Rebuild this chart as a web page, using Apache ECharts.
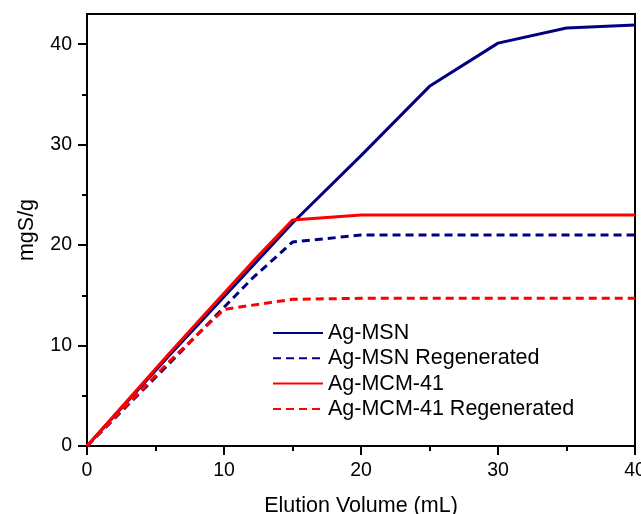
<!DOCTYPE html>
<html>
<head>
<meta charset="utf-8">
<script src="https://cdn.jsdelivr.net/npm/echarts@6/dist/echarts.min.js"></script>
<style>html,body{margin:0;padding:0;background:#fff;}#c{width:641px;height:514px;}</style>
</head>
<body>
<div id="c"></div>
<script>
const seriesNames = ['Ag-MSN', 'Ag-MSN Regenerated', 'Ag-MCM-41', 'Ag-MCM-41 Regenerated'];
const msnX = [0, 3, 6, 9, 12, 15, 20, 25, 30, 35, 40];
const msnY = [0, 4.5, 9.0, 13.4, 17.8, 22.2, 28.9, 35.8, 40.1, 41.6, 41.9];
const msnRegenX = [0, 3, 6, 9, 12, 15, 20, 25, 30, 35, 40];
const msnRegenY = [0, 4.1, 8.2, 12.4, 16.6, 20.3, 21.0, 21.0, 21.0, 21.0, 21.0];
const mcmX = [0, 3, 6, 9, 12, 15, 20, 25, 30, 35, 40];
const mcmY = [0, 4.6, 9.2, 13.7, 18.2, 22.5, 23.0, 23.0, 23.0, 23.0, 23.0];
const mcmRegenX = [0, 3, 6, 10, 15, 20, 25, 30, 35, 40];
const mcmRegenY = [0, 4.2, 8.4, 13.6, 14.6, 14.7, 14.7, 14.7, 14.7, 14.7];
const xTicks = [0, 10, 20, 30, 40];
const yMajorTicks = [0, 10, 20, 30, 40];
const yMinorTicks = [5, 15, 25, 35];
const xTitle = 'Elution Volume (mL)';
const yTitle = 'mgS/g';

const FONT = 'Arial, "Liberation Sans", sans-serif';
const NAVY = '#000080', RED = '#ff0000';
function pairs(xs, ys) { return xs.map((x, i) => [x, ys[i]]); }

const chart = echarts.init(document.getElementById('c'), null, {renderer: 'canvas'});
const lineStyles = [
  {color: NAVY, width: 3, type: 'solid'},
  {color: NAVY, width: 3, type: [8, 5]},
  {color: RED, width: 3, type: 'solid'},
  {color: RED, width: 3, type: [8, 5]}
];
const datas = [pairs(msnX, msnY), pairs(msnRegenX, msnRegenY), pairs(mcmX, mcmY), pairs(mcmRegenX, mcmRegenY)];

chart.setOption({
  animation: false,
  backgroundColor: '#fff',
  grid: {left: 87, right: 6, top: 14, bottom: 68, show: true, borderColor: '#000', borderWidth: 2,
         backgroundColor: 'transparent', containLabel: false, outerBoundsMode: 'none'},
  legend: {
    orient: 'vertical', left: 267, top: 317,
    itemWidth: 50, itemHeight: 14, itemGap: 3.3,
    itemStyle: {opacity: 0},
    textStyle: {fontFamily: FONT, fontSize: 21.5, color: '#000', lineHeight: 21},
    data: seriesNames
  },
  xAxis: {
    type: 'value', min: 0, max: 40, interval: 10,
    name: xTitle, nameLocation: 'middle', nameGap: 49,
    nameTextStyle: {fontFamily: FONT, fontSize: 21.5, color: '#000'},
    axisLine: {show: true, onZero: false, lineStyle: {color: '#000', width: 2}},
    axisTick: {show: true, inside: false, length: 9, lineStyle: {color: '#000', width: 2}},
    minorTick: {show: true, splitNumber: 2, length: 5, lineStyle: {color: '#000', width: 2}},
    axisLabel: {fontFamily: FONT, fontSize: 19.5, color: '#000', margin: 15},
    splitLine: {show: false}, minorSplitLine: {show: false}
  },
  yAxis: [{
    type: 'value', min: 0, max: 43, position: 'left',
    name: yTitle, nameLocation: 'middle', nameGap: 49,
    nameTextStyle: {fontFamily: FONT, fontSize: 21.5, color: '#000'},
    axisLine: {show: true, onZero: false, lineStyle: {color: '#000', width: 2}},
    axisTick: {show: true, inside: false, length: 9, customValues: yMajorTicks, lineStyle: {color: '#000', width: 2}},
    axisLabel: {fontFamily: FONT, fontSize: 19.5, color: '#000', margin: 15, customValues: yMajorTicks},
    splitLine: {show: false}
  }, {
    type: 'value', min: 0, max: 43, position: 'left', offset: 0,
    axisLine: {show: false},
    axisTick: {show: true, inside: false, length: 5, customValues: yMinorTicks, lineStyle: {color: '#000', width: 2}},
    axisLabel: {show: false},
    splitLine: {show: false}
  }],
  series: seriesNames.map((n, i) => ({
    name: n, type: 'line', xAxisIndex: 0, yAxisIndex: 0,
    data: datas[i], symbol: 'none', showSymbol: false,
    lineStyle: lineStyles[i], itemStyle: {color: lineStyles[i].color},
    emphasis: {disabled: true}, z: 2 + i
  }))
});
</script>
</body>
</html>
